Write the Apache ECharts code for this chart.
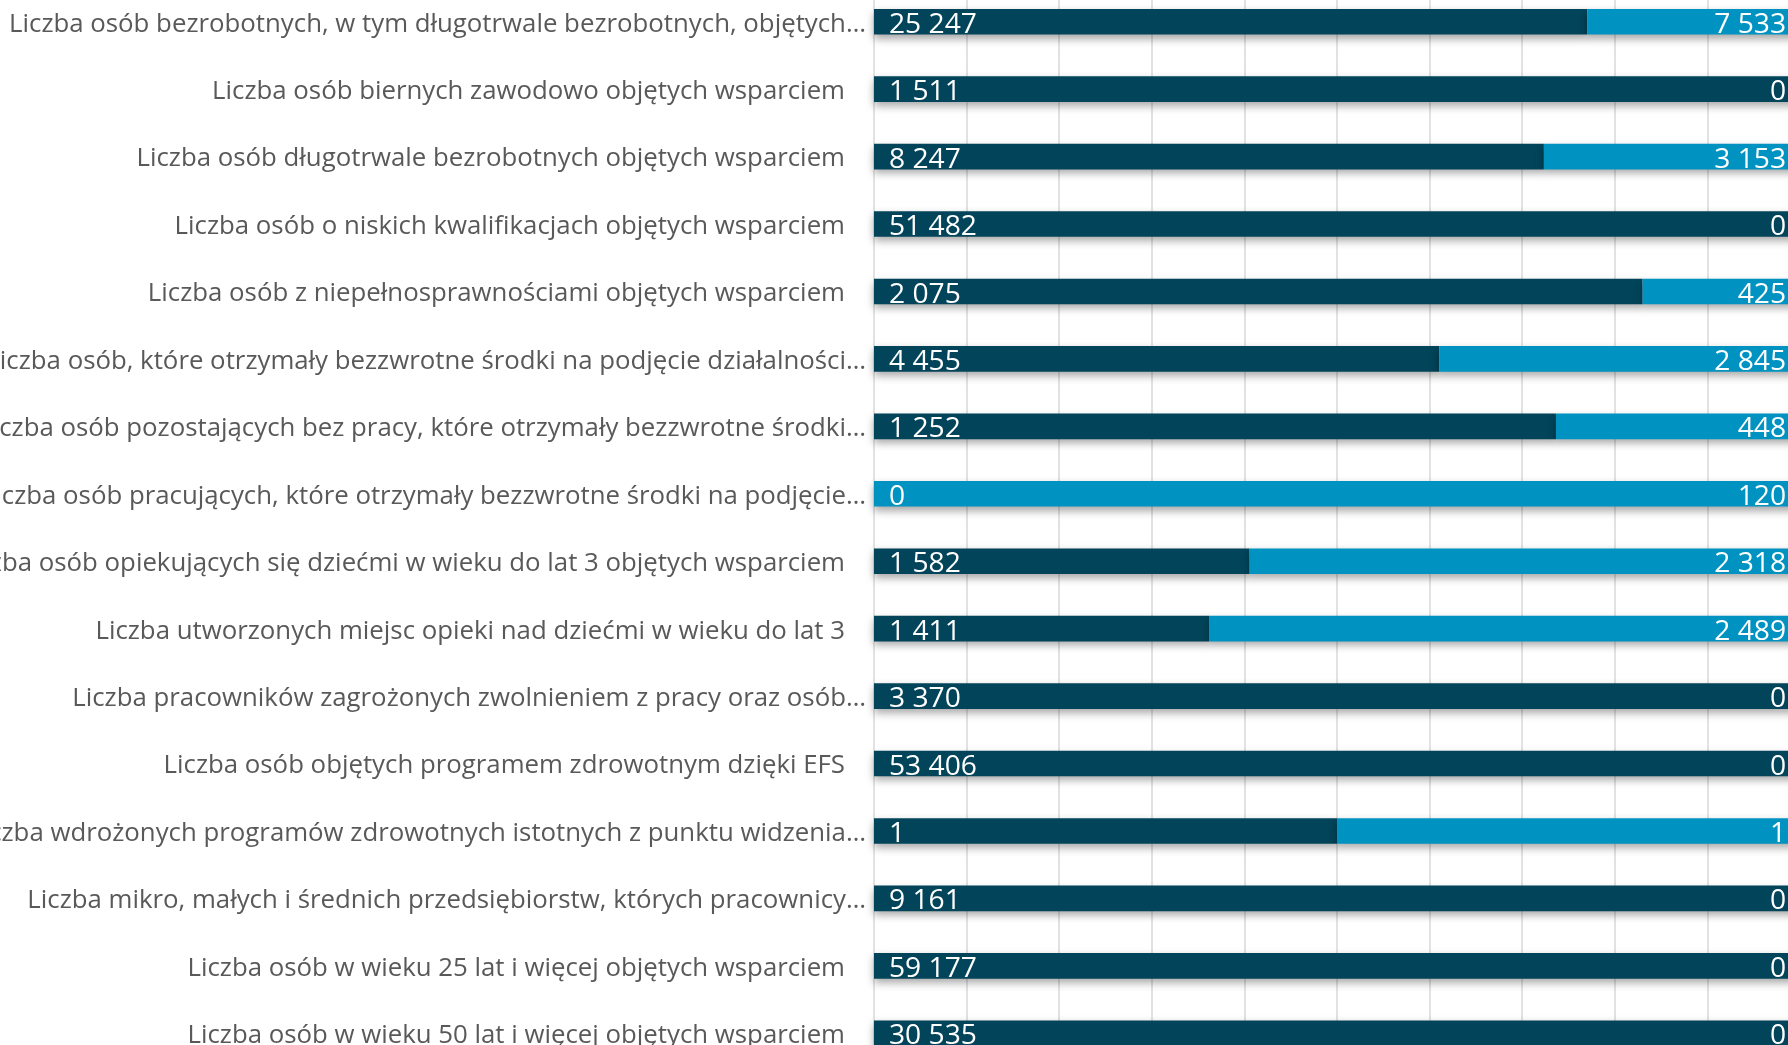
<!DOCTYPE html>
<html>
<head>
<meta charset="utf-8">
<title>Wskaźniki</title>
<script src="https://cdn.jsdelivr.net/npm/echarts@6/dist/echarts.min.js"></script>
<style>
  html, body { margin: 0; padding: 0; background: #fff; }
  #chart { width: 1788px; height: 1045px; }
</style>
</head>
<body>
<div id="chart"></div>
<script>
// kategorie (od góry do dołu)
const categories = [
  'Liczba osób bezrobotnych, w tym długotrwale bezrobotnych, objętych…',
  'Liczba osób biernych zawodowo objętych wsparciem',
  'Liczba osób długotrwale bezrobotnych objętych wsparciem',
  'Liczba osób o niskich kwalifikacjach objętych wsparciem',
  'Liczba osób z niepełnosprawnościami objętych wsparciem',
  'Liczba osób, które otrzymały bezzwrotne środki na podjęcie działalności…',
  'Liczba osób pozostających bez pracy, które otrzymały bezzwrotne środki…',
  'Liczba osób pracujących, które otrzymały bezzwrotne środki na podjęcie…',
  'Liczba osób opiekujących się dziećmi w wieku do lat 3 objętych wsparciem',
  'Liczba utworzonych miejsc opieki nad dziećmi w wieku do lat 3',
  'Liczba pracowników zagrożonych zwolnieniem z pracy oraz osób…',
  'Liczba osób objętych programem zdrowotnym dzięki EFS',
  'Liczba wdrożonych programów zdrowotnych istotnych z punktu widzenia…',
  'Liczba mikro, małych i średnich przedsiębiorstw, których pracownicy…',
  'Liczba osób w wieku 25 lat i więcej objętych wsparciem',
  'Liczba osób w wieku 50 lat i więcej objętych wsparciem'
]

// seria 1 (ciemna)
const darkValues = [25247, 1511, 8247, 51482, 2075, 4455, 1252, 0, 1582, 1411, 3370, 53406, 1, 9161, 59177, 30535]
// seria 2 (jasna)
const lightValues = [7533, 0, 3153, 0, 425, 2845, 448, 120, 2318, 2489, 0, 0, 1, 0, 0, 0]

const darkColor = '#02445a'
const lightColor = '#0093c1'

// udziały w 100% (wykres skumulowany procentowo)
const darkShare = darkValues.map((v, i) => v / (v + lightValues[i]))
const lightShare = lightValues.map((v, i) => v / (v + darkValues[i]))

// 25247 -> "25 247"
const fmt = (v) => String(v).replace(/\B(?=(\d{3})+(?!\d))/g, ' ')

const chart = echarts.init(document.getElementById('chart'))

const barShadow = {
  shadowColor: 'rgba(0, 0, 0, 0.35)',
  shadowBlur: 8,
  shadowOffsetY: 4
}

const valueLabel = {
  show: true,
  color: '#ffffff',
  fontFamily: 'Open Sans',
  fontSize: 28.2,
  offset: [0, 3]
}

const catFont = {
  fontFamily: 'Open Sans',
  fontSize: 25.8,
  color: '#595959'
}

const option = {
  backgroundColor: '#ffffff',
  animation: false,
  grid: {
    left: 874,
    right: -12,
    top: -12,
    height: 1079,
    containLabel: false,
    outerBoundsMode: 'none'
  },
  xAxis: {
    type: 'value',
    min: 0,
    max: 1,
    interval: 0.1,
    axisLabel: { show: false },
    axisLine: { show: false },
    axisTick: { show: false },
    splitLine: {
      show: true,
      lineStyle: { color: '#d9d9d9', width: 1.5 }
    }
  },
  yAxis: {
    type: 'category',
    inverse: true,
    data: categories,
    axisLine: { show: false },
    axisTick: { show: false },
    axisLabel: {
      margin: 8,
      ...catFont,
      formatter: (v) => (v.endsWith('…') ? '{t|' + v + '}' : '{n|' + v + '}'),
      rich: {
        t: { ...catFont, padding: [5, 0, 0, 0] },
        n: { ...catFont, padding: [5, 21, 0, 0] }
      }
    }
  },
  series: [
    {
      name: 'Seria 1',
      type: 'bar',
      stack: 'total',
      barWidth: '38%',
      data: darkShare,
      itemStyle: { color: darkColor, ...barShadow },
      label: {
        ...valueLabel,
        position: 'insideLeft',
        distance: 15,
        formatter: (p) => fmt(darkValues[p.dataIndex])
      }
    },
    {
      name: 'Seria 2',
      type: 'bar',
      stack: 'total',
      barWidth: '38%',
      data: lightShare,
      itemStyle: { color: lightColor, ...barShadow },
      label: {
        ...valueLabel,
        position: 'insideRight',
        distance: 14,
        formatter: (p) => fmt(lightValues[p.dataIndex])
      }
    }
  ]
}

chart.setOption(option)
</script>
</body>
</html>
